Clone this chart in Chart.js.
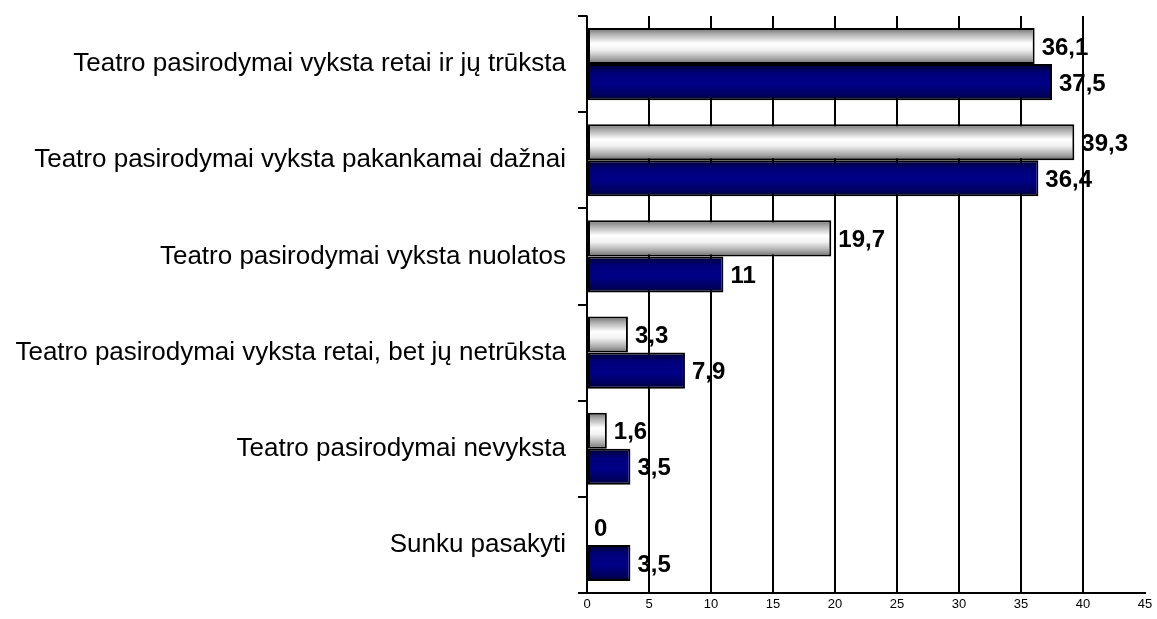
<!DOCTYPE html>
<html>
<head>
<meta charset="utf-8">
<script src="https://cdn.jsdelivr.net/npm/chart.js@4.4.0/dist/chart.umd.min.js"></script>
<style>
  html, body { margin: 0; padding: 0; background: #fff; }
  #wrap { width: 1157px; height: 619px; }
</style>
</head>
<body>
<div id="wrap"><canvas id="myChart" width="1157" height="619"></canvas></div>
<script>
const categories = [
    'Teatro pasirodymai vyksta retai ir jų trūksta',
    'Teatro pasirodymai vyksta pakankamai dažnai',
    'Teatro pasirodymai vyksta nuolatos',
    'Teatro pasirodymai vyksta retai, bet jų netrūksta',
    'Teatro pasirodymai nevyksta',
    'Sunku pasakyti'
];
const seriesA = [36.1, 39.3, 19.7, 3.3, 1.6, 0];   // white bars
const seriesB = [37.5, 36.4, 11, 7.9, 3.5, 3.5];   // navy bars
const xTicks = [0, 5, 10, 15, 20, 25, 30, 35, 40, 45];

const whiteStops = [[0, '#6e6e6e'], [0.15, '#a8a8a8'], [0.42, '#ffffff'], [0.6, '#f2f2f2'], [0.85, '#a6a6a6'], [1, '#6a6a6a']];
const navyStops = [[0, '#000030'], [0.25, '#00007a'], [0.55, '#000088'], [0.85, '#000060'], [1, '#000028']];

// builds a vertical gradient for each bar from the y scale
function barGradient(stops, half) {
    return function (c) {
        const chart = c.chart;
        const y = chart.scales.y;
        if (!y || !chart.chartArea) return stops[2][1];
        const center = y.getPixelForValue(c.dataIndex);
        const band = y.height / categories.length;
        const t = band * 0.75 / 2;
        const top = half === 0 ? center - t : center;
        const g = chart.ctx.createLinearGradient(0, top, 0, top + t);
        stops.forEach(s => g.addColorStop(s[0], s[1]));
        return g;
    };
}

const valueLabels = {
    id: 'valueLabels',
    afterDatasetsDraw(chart) {
        const ctx = chart.ctx;
        ctx.save();
        ctx.font = 'bold 24px "Liberation Sans", Arial, sans-serif';
        ctx.fillStyle = '#000';
        ctx.textBaseline = 'middle';
        ctx.textAlign = 'left';
        chart.data.datasets.forEach((ds, i) => {
            chart.getDatasetMeta(i).data.forEach((bar, j) => {
                const txt = String(ds.data[j]).replace('.', ',');
                ctx.fillText(txt, bar.x + 7, bar.y + 2);
            });
        });
        ctx.restore();
    }
};

const ctx = document.getElementById('myChart').getContext('2d');

const chart = new Chart(ctx, {
    type: 'bar',
    data: {
        labels: categories,
        datasets: [
            {
                data: seriesA,
                backgroundColor: barGradient(whiteStops, 0),
                borderColor: '#000',
                borderWidth: 2,
                borderSkipped: false,
            },
            {
                data: seriesB,
                backgroundColor: barGradient(navyStops, 1),
                borderColor: '#000',
                borderWidth: 2,
                borderSkipped: false,
            },
        ],
    },
    options: {
        indexAxis: 'y',
        responsive: false,
        animation: false,
        layout: { padding: { top: 16, right: 12, bottom: 0, left: 0 } },
        datasets: { bar: { categoryPercentage: 0.75, barPercentage: 1.0 } },
        plugins: {
            legend: { display: false },
            tooltip: { enabled: false },
        },
        scales: {
            x: {
                min: 0,
                max: 45,
                afterBuildTicks: (s) => { s.ticks = xTicks.map(v => ({ value: v })); },
                grid: {
                    color: (c) => (c.tick && c.tick.value === 45) ? 'rgba(0,0,0,0)' : '#000',
                    lineWidth: 2,
                    drawTicks: false,
                },
                border: { color: '#000', width: 2 },
                ticks: {
                    color: '#000',
                    padding: 4,
                    font: { family: '"Liberation Sans", Arial, sans-serif', size: 13 },
                },
                afterFit: (s) => { s.height = 26; },
            },
            y: {
                grid: {
                    offset: true,
                    drawOnChartArea: false,
                    drawTicks: true,
                    tickLength: 9,
                    color: '#000',
                    lineWidth: 2,
                },
                border: { color: '#000', width: 1.5 },
                ticks: {
                    color: '#000',
                    padding: 12,
                    font: { family: '"Liberation Sans", Arial, sans-serif', size: 26 },
                },
                afterFit: (s) => {
                    s.width = 587;
                    s.paddingTop = 0;
                    s.paddingBottom = 0;
                },
            },
        },
    },
    plugins: [valueLabels],
});
</script>
</body>
</html>
